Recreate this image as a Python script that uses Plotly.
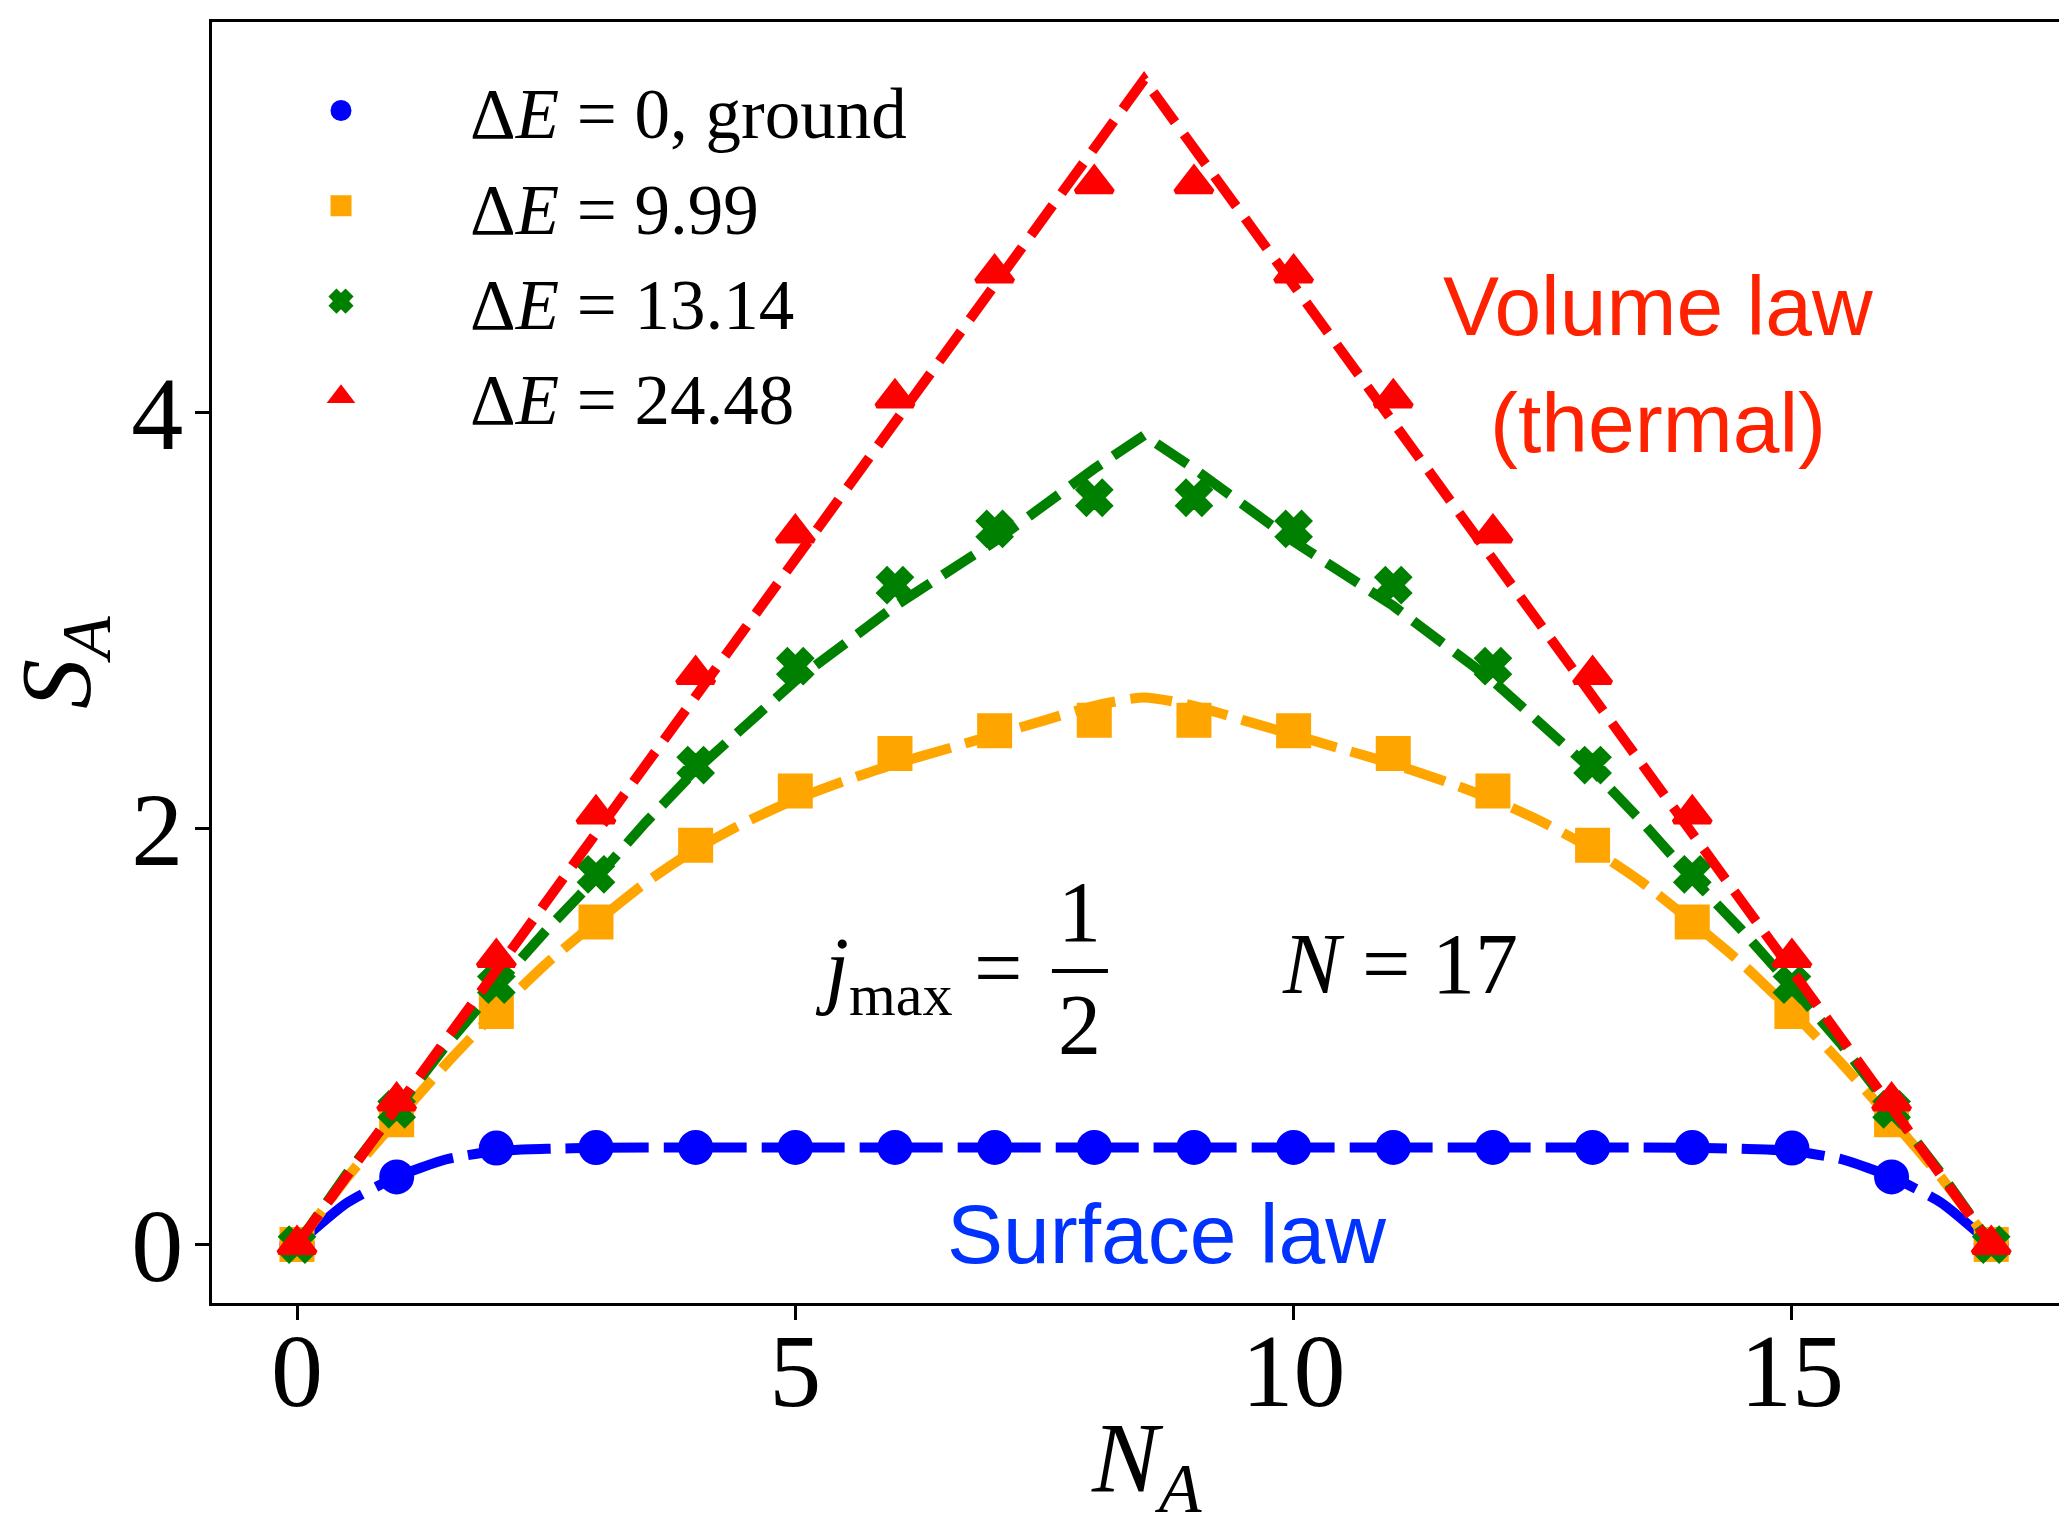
import plotly.graph_objects as go

# ---------------- data ----------------
NA = list(range(18))
legend_labels = ["Δ<i>E</i> = 0, ground", "Δ<i>E</i> = 9.99", "Δ<i>E</i> = 13.14", "Δ<i>E</i> = 24.48"]
colors = ["#0000FF", "#FFA500", "#008000", "#FF0000"]
symbols = ["circle", "square", "x", "triangle-up"]

S_ground = [0.0, 0.325, 0.464, 0.466, 0.467, 0.467, 0.467, 0.467, 0.467,
            0.467, 0.467, 0.467, 0.467, 0.467, 0.466, 0.464, 0.325, 0.0]
S_999 = [0.0, 0.60, 1.12, 1.55, 1.92, 2.18, 2.36, 2.47, 2.52,
         2.52, 2.47, 2.36, 2.18, 1.92, 1.55, 1.12, 0.60, 0.0]
S_1314 = [0.0, 0.65, 1.25, 1.78, 2.305, 2.78, 3.17, 3.44, 3.59,
          3.59, 3.44, 3.17, 2.78, 2.305, 1.78, 1.25, 0.65, 0.0]
S_2448 = [0.0, 0.69, 1.38, 2.07, 2.74, 3.42, 4.07, 4.67, 5.10,
          5.10, 4.67, 4.07, 3.42, 2.74, 2.07, 1.38, 0.69, 0.0]

# theory curves (dashed)
x_blue = [0, 0.5, 1, 1.5, 2, 2.5, 3, 4, 5, 6, 7, 8, 8.5, 9, 10, 11, 12, 13, 14, 14.5, 15, 15.5, 16, 16.5, 17]
y_blue = [0, 0.20, 0.325, 0.41, 0.45, 0.46, 0.465, 0.467, 0.467, 0.467, 0.467, 0.467, 0.467,
          0.467, 0.467, 0.467, 0.467, 0.467, 0.465, 0.46, 0.45, 0.41, 0.325, 0.20, 0]
x_orange = [0, 0.5, 1, 1.5, 2, 2.5, 3, 3.5, 4, 4.5, 5, 5.5, 6, 6.5, 7, 7.5, 8, 8.5,
            9, 9.5, 10, 10.5, 11, 11.5, 12, 12.5, 13, 13.5, 14, 14.5, 15, 15.5, 16, 16.5, 17]
y_orange = [0, 0.32, 0.60, 0.87, 1.12, 1.35, 1.55, 1.74, 1.90, 2.03, 2.14, 2.23, 2.31, 2.38, 2.45, 2.52, 2.59, 2.63,
            2.59, 2.52, 2.45, 2.38, 2.31, 2.23, 2.14, 2.03, 1.90, 1.74, 1.55, 1.35, 1.12, 0.87, 0.60, 0.32, 0]
x_green = [0, 0.5, 1, 1.5, 2, 2.5, 3, 3.5, 4, 5, 6, 7, 8, 8.5,
           9, 10, 11, 12, 13, 13.5, 14, 14.5, 15, 15.5, 16, 16.5, 17]
y_green = [0, 0.34, 0.65, 0.96, 1.24, 1.51, 1.76, 2.03, 2.28, 2.71, 3.07, 3.38, 3.73, 3.89,
           3.73, 3.38, 3.07, 2.71, 2.28, 2.03, 1.76, 1.51, 1.24, 0.96, 0.65, 0.34, 0]
x_red = [0, 8.5, 17]
y_red = [0, 5.60, 0]

marker_series = [S_ground, S_999, S_1314, S_2448]
line_x = [x_blue, x_orange, x_green, x_red]
line_y = [y_blue, y_orange, y_green, y_red]
line_shapes = ["spline", "spline", "linear", "linear"]
dash_patterns = ["83px,15px", "42px,15px", "37px,15px", "37px,15px"]
marker_sizes = [30, 30, 28, 32]

SERIF = "Liberation Serif"
SANS = "Liberation Sans"

fig = go.Figure()
for i in range(4):
    fig.add_trace(go.Scatter(
        x=NA, y=marker_series[i], mode="markers", name=legend_labels[i],
        marker=dict(symbol=symbols[i], size=marker_sizes[i], color=colors[i],
                    line=dict(color=colors[i], width=5)),
        showlegend=True,
    ))
    fig.add_trace(go.Scatter(
        x=line_x[i], y=line_y[i], mode="lines",
        line=dict(color=colors[i], width=10, dash=dash_patterns[i],
                  shape=line_shapes[i], smoothing=0.6),
        showlegend=False, hoverinfo="skip",
    ))

annotations = [
    dict(x=13.66, y=4.51, text="Volume law", font=dict(family=SANS, size=84, color="#FF2200")),
    dict(x=13.66, y=3.95, text="(thermal)", font=dict(family=SANS, size=84, color="#FF2200")),
    dict(x=8.72, y=0.05, text="Surface law", font=dict(family=SANS, size=84, color="#0033FF")),
    dict(x=11.07, y=1.35, text="<i>N</i> = 17", font=dict(family=SERIF, size=86, color="black")),
    dict(x=7.305, y=1.30, text="<i>j</i><sub>max</sub> =", xanchor="right",
         font=dict(family=SERIF, size=86, color="black")),
    dict(x=7.85, y=1.60, text="1", font=dict(family=SERIF, size=86, color="black")),
    dict(x=7.85, y=1.055, text="2", font=dict(family=SERIF, size=86, color="black")),
]
for a in annotations:
    a.setdefault("xanchor", "center")
    a.update(xref="x", yref="y", yanchor="middle", showarrow=False)

# x-axis title (placed as annotation for exact position)
annotations.append(dict(x=0.5057, y=-0.126, xref="paper", yref="paper", xanchor="center", yanchor="middle",
                        showarrow=False, text="<i>N</i><sub><i>A</i></sub>",
                        font=dict(family=SERIF, size=100, color="black")))

fig.add_shape(type="line", xref="x", yref="y", x0=7.575, x1=8.137, y0=1.315, y1=1.315,
              line=dict(color="black", width=4))

fig.update_layout(
    width=2059, height=1527,
    margin=dict(l=212, r=0, t=22, b=224, pad=0),
    paper_bgcolor="white", plot_bgcolor="white",
    annotations=annotations,
    showlegend=True,
    legend=dict(x=0.0, y=0.972, xanchor="left", yanchor="top",
                bgcolor="rgba(0,0,0,0)", borderwidth=0,
                itemwidth=248, font=dict(family=SERIF, size=71, color="black"),
                tracegroupgap=0),
    xaxis=dict(range=[-0.853, 17.68], showline=True, linewidth=3, linecolor="black", mirror=True,
               ticks="outside", ticklen=14, tickwidth=3, tickcolor="black",
               tickvals=[0, 5, 10, 15], ticktext=["0", "5", "10", "15"],
               tickfont=dict(family=SERIF, size=104, color="black"),
               ticklabelstandoff=-39, automargin=False,
               showgrid=False, zeroline=False),
    yaxis=dict(range=[-0.281, 5.877], showline=True, linewidth=3, linecolor="black", mirror=False,
               ticks="outside", ticklen=14, tickwidth=3, tickcolor="black",
               tickvals=[0, 2, 4], ticktext=["0", "2", "4"],
               tickfont=dict(family=SERIF, size=104, color="black"),
               ticklabelstandoff=-9, automargin=False,
               showgrid=False, zeroline=False,
               title=dict(text="<i>S</i><sub><i>A</i></sub>", font=dict(family=SERIF, size=100, color="black"),
                          standoff=20)),
)

fig.write_html("out.html")
